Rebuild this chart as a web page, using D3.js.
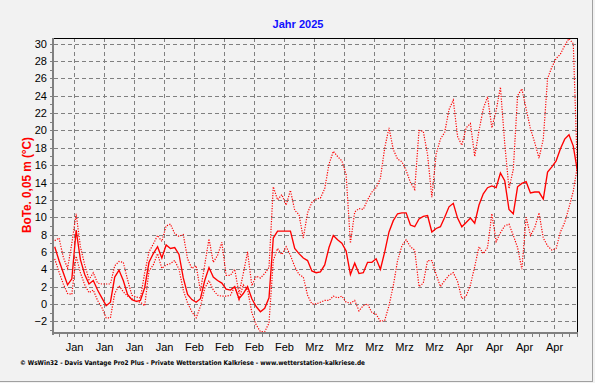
<!DOCTYPE html>
<html><head><meta charset="utf-8">
<script src="https://cdn.jsdelivr.net/npm/d3@7"></script>
<style>html,body{margin:0;padding:0;background:#f2f2f2;} svg{display:block;}</style>
</head><body>
<svg id="c" width="595" height="383"></svg>
<script>
// Daily values, 1 Jan 2025 .. 3 May 2025
const meanValues = [6.6,5.0,3.6,2.2,2.9,8.5,5.1,3.4,2.3,2.7,1.6,0.7,-0.2,0.2,3.1,3.9,2.7,1.1,0.5,0.3,
0.4,1.9,4.8,5.8,6.6,5.3,6.8,6.4,6.5,5.7,3.0,1.1,0.5,0.2,0.6,2.7,4.2,3.1,2.7,2.4,
1.7,1.6,2.0,0.6,1.2,2.0,0.6,-0.3,-0.9,-0.5,0.7,7.6,8.4,8.4,8.4,8.4,6.4,5.8,5.3,5.0,
3.8,3.6,3.7,4.5,6.5,7.9,7.4,7.0,6.1,3.4,4.7,3.5,3.6,4.8,4.8,5.2,4.0,6.0,8.3,9.6,
10.4,10.5,10.5,9.1,8.9,9.8,10.1,10.2,8.3,8.7,8.9,10.0,11.2,11.6,9.9,8.9,9.4,9.9,9.3,11.4,
12.7,13.4,13.6,13.4,15.1,14.2,10.9,10.4,13.5,13.9,14.1,12.8,12.9,12.9,12.1,15.2,15.8,16.5,17.9,19.0,
19.5,18.2,15.2];
const maxValues = [7.3,7.6,5.4,4.1,7.0,10.4,6.6,4.5,2.8,3.6,2.4,2.3,2.3,2.3,4.4,4.9,4.8,2.8,1.0,0.8,
0.7,3.6,6.0,6.9,7.9,7.2,9.0,9.2,8.1,7.8,8.0,5.2,4.1,4.4,1.5,4.5,7.5,4.8,5.6,7.1,
3.3,3.3,4.0,1.2,3.5,6.0,2.1,3.2,3.0,3.5,4.2,13.5,12.0,12.6,11.4,13.1,10.8,10.3,7.6,10.5,
11.7,12.1,12.2,13.3,16.1,17.6,17.0,16.5,14.9,7.0,10.6,11.0,10.9,12.0,12.9,13.4,14.5,18.0,20.3,17.8,
16.7,16.4,15.4,14.0,13.2,20.0,19.9,17.2,12.3,17.3,19.0,19.8,22.4,23.5,19.3,18.3,20.3,20.8,17.0,20.0,
22.5,23.9,20.3,22.3,25.0,18.5,13.3,15.5,24.0,24.8,22.5,20.2,18.6,16.8,19.0,26.0,27.3,28.3,28.8,29.8,
30.6,30.0,14.8];
const minValues = [5.2,3.7,2.3,1.2,1.1,5.5,3.6,2.2,1.3,1.6,0.4,-0.4,-1.6,-1.6,1.2,2.1,1.4,0.9,0.6,0.3,
0.2,-0.2,3.8,4.5,5.8,4.1,4.5,4.65,5.0,4.0,1.6,0.1,-0.9,-1.6,-0.3,1.8,2.7,1.6,1.0,0.9,
0.9,1.0,2.0,0.5,2.2,1.6,-1.0,-2.4,-3.2,-3.2,-2.2,5.0,6.4,5.7,6.6,5.6,4.3,3.4,3.1,1.0,
0.0,0.0,0.2,0.4,0.4,0.9,0.7,0.9,0.2,0.1,0.4,-0.8,-0.2,0.0,-1.0,-1.2,-2.0,-1.9,-0.2,2.1,
5.0,6.7,7.4,6.6,6.2,2.0,2.4,5.0,5.0,3.4,2.0,2.7,3.3,3.6,2.6,0.6,0.9,2.2,4.3,6.6,
5.8,6.5,10.4,7.2,8.2,9.0,9.2,7.9,6.5,4.0,10.0,7.9,8.8,10.5,7.6,6.7,6.2,6.4,8.3,9.4,
11.1,13.0,16.0];
const yTicks = [-2,0,2,4,6,8,10,12,14,16,18,20,22,24,26,28,30];
const xTickLabels = ["Jan","Jan","Jan","Jan","Feb","Feb","Feb","Feb","Mrz","Mrz","Mrz","Mrz","Mrz","Apr","Apr","Apr","Apr"];
const titleText = "Jahr 2025";
const yLabelText = "BoTe. 0,05 m (°C)";
const footerText = "© WsWin32  -  Davis Vantage Pro2 Plus  -  Private Wetterstation Kalkriese - www.wetterstation-kalkriese.de";

const svg = d3.select("#c");
const L = 54, R = 577, T = 38, B = 333;
const x = d3.scaleUtc()
  .domain([new Date(Date.UTC(2025,0,1,8)), new Date(Date.UTC(2025,4,3,8,48))])
  .range([L, R]);
const y = d3.scaleLinear().domain([-3.35, 30.66]).range([B, T]);
const dates = meanValues.map((_, i) => new Date(Date.UTC(2025,0,1+i,12)));
const mondays = d3.utcMonday.range(x.domain()[0], x.domain()[1]);

// background + outer frame
svg.append("rect").attr("width",595).attr("height",383).attr("fill","#f2f2f2");
svg.append("line").attr("x1",592.5).attr("x2",592.5).attr("y1",0).attr("y2",382)
  .attr("stroke","#a0a0a0");
svg.append("line").attr("x1",0).attr("x2",593).attr("y1",381.5).attr("y2",381.5)
  .attr("stroke","#a0a0a0");

// grid
const grid = svg.append("g").attr("shape-rendering","crispEdges")
  .attr("stroke","#808080").attr("stroke-dasharray","4,3");
grid.selectAll("line.h").data(yTicks).join("line").attr("class","h")
  .attr("x1",L).attr("x2",R).attr("y1",d=>Math.round(y(d))+0.5).attr("y2",d=>Math.round(y(d))+0.5);
grid.selectAll("line.v").data(mondays).join("line").attr("class","v")
  .attr("y1",T).attr("y2",B).attr("x1",d=>Math.round(x(d))+0.5).attr("x2",d=>Math.round(x(d))+0.5);

// data lines
svg.append("clipPath").attr("id","clip").append("rect")
  .attr("x",L).attr("y",T).attr("width",R-L).attr("height",B-T);
const line = d3.line().x((d,i)=>x(dates[i])).y(d=>y(d));
const lines = svg.append("g").attr("clip-path","url(#clip)").attr("fill","none").attr("stroke","#ff0000");
lines.append("path").datum(maxValues).attr("d",line).attr("stroke-width",1.2).attr("stroke-dasharray","1.2,1.4");
lines.append("path").datum(minValues).attr("d",line).attr("stroke-width",1.2).attr("stroke-dasharray","1.2,1.4");
lines.append("path").datum(meanValues).attr("d",line).attr("stroke-width",1.35);

// frame: top and right black, left and bottom gray axes
const fr = svg.append("g").attr("shape-rendering","crispEdges");
fr.append("line").attr("x1",L).attr("x2",R+1).attr("y1",T+0.5).attr("y2",T+0.5).attr("stroke","#000");
fr.append("line").attr("x1",R+0.5).attr("x2",R+0.5).attr("y1",T).attr("y2",B).attr("stroke","#000");
fr.append("line").attr("x1",L-1).attr("x2",L-1).attr("y1",T).attr("y2",B+2).attr("stroke","#808080").attr("stroke-width",2);
fr.append("line").attr("x1",L-2).attr("x2",R+1).attr("y1",B).attr("y2",B).attr("stroke","#808080").attr("stroke-width",2);

// minor ticks
fr.selectAll("line.ym").data(d3.range(-3,31,1)).join("line").attr("class","ym")
  .attr("x1",L-4).attr("x2",L-2).attr("y1",d=>Math.round(y(d))+0.5).attr("y2",d=>Math.round(y(d))+0.5)
  .attr("stroke","#808080");
const step = 1.75*86400000;
const t0 = Date.UTC(2025,0,6) - 3*step;
const minorX = d3.range(t0, +x.domain()[1], step).map(t=>new Date(t)).filter(d=>x(d)>=L-1);
fr.selectAll("line.xm").data(minorX).join("line").attr("class","xm")
  .attr("x1",d=>Math.round(x(d))+0.5).attr("x2",d=>Math.round(x(d))+0.5).attr("y1",B+1).attr("y2",B+4)
  .attr("stroke","#808080");

// tick labels
const font = "'Liberation Sans', Arial, sans-serif";
const yAxis = svg.append("g").attr("transform",`translate(${L},0)`)
  .call(d3.axisLeft(y).tickValues(yTicks).tickSize(0).tickPadding(7).tickFormat(d3.format("d")));
yAxis.select(".domain").remove();
yAxis.selectAll("text").attr("font-family",font).attr("font-size",11).attr("fill","#000");
const xAxis = svg.append("g").attr("transform",`translate(0,${B})`)
  .call(d3.axisBottom(x).tickValues(mondays).tickSize(0).tickPadding(10).tickFormat((d,i)=>xTickLabels[i]));
xAxis.select(".domain").remove();
xAxis.selectAll("text").attr("font-family",font).attr("font-size",11).attr("fill","#000");

// title, y label, footer
svg.append("text").attr("x",298).attr("y",28).attr("text-anchor","middle")
  .attr("font-family",font).attr("font-weight","bold").attr("font-size",11).attr("fill","#1010ff")
  .text(titleText);
svg.append("text").attr("transform","translate(31,185) rotate(-90)").attr("text-anchor","middle")
  .attr("font-family",font).attr("font-weight","bold").attr("font-size",12).attr("fill","#ff0000")
  .attr("textLength",96).attr("lengthAdjust","spacingAndGlyphs").text(yLabelText);
svg.append("text").attr("x",20).attr("y",365)
  .attr("font-family","'DejaVu Sans', sans-serif").attr("font-weight","bold").attr("font-size",6.5).attr("fill","#000")
  .attr("textLength",345).attr("lengthAdjust","spacingAndGlyphs").text(footerText);
</script>
</body></html>
